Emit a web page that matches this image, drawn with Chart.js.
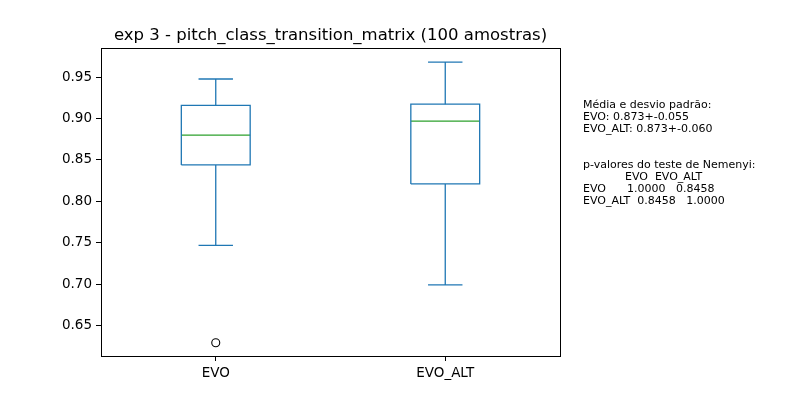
<!DOCTYPE html>
<html>
<head>
<meta charset="utf-8">
<script src="https://cdn.jsdelivr.net/npm/chart.js@4/dist/chart.umd.min.js"></script>
<style>
html,body{margin:0;padding:0;background:#fff;}
#wrap{width:800px;height:400px;}
</style>
</head>
<body>
<div id="wrap"><canvas id="c" width="800" height="400"></canvas></div>
<script>
const categories = ['EVO', 'EVO_ALT'];
const whiskerLow = [0.7469, 0.6992];
const q1 = [0.8440, 0.8211];
const median = [0.8800, 0.8969];
const q3 = [0.9157, 0.9173];
const whiskerHigh = [0.9476, 0.9680];
const outliers = [[0.6295], []];
const yTicks = [0.65, 0.70, 0.75, 0.80, 0.85, 0.90, 0.95];
const titleText = 'exp 3 - pitch_class_transition_matrix (100 amostras)';
const sideText = [
  'Média e desvio padrão:',
  'EVO: 0.873+-0.055',
  'EVO_ALT: 0.873+-0.060',
  '',
  '',
  'p-valores do teste de Nemenyi:',
  '            EVO  EVO_ALT',
  'EVO      1.0000   0.8458',
  'EVO_ALT  0.8458   1.0000'
];

const BLUE = '#1f77b4', GREEN = '#2ca02c';
const boxHalf = 0.15, capHalf = 0.075;
const FONT = '"DejaVu Sans", sans-serif';

function seg(points, color) {
  return { type: 'line', data: points, borderColor: color, borderWidth: 1.3,
    pointRadius: 0, fill: false, tension: 0, showLine: true };
}
const datasets = [];
categories.forEach((c, i) => {
  const x = i + 1;
  datasets.push(seg([{x: x - boxHalf, y: q1[i]}, {x: x - boxHalf, y: q3[i]}, {x: x + boxHalf, y: q3[i]},
    {x: x + boxHalf, y: q1[i]}, {x: x - boxHalf, y: q1[i]}], BLUE));
  datasets.push(seg([{x: x, y: q3[i]}, {x: x, y: whiskerHigh[i]}], BLUE));
  datasets.push(seg([{x: x, y: q1[i]}, {x: x, y: whiskerLow[i]}], BLUE));
  datasets.push(seg([{x: x - capHalf, y: whiskerHigh[i]}, {x: x + capHalf, y: whiskerHigh[i]}], BLUE));
  datasets.push(seg([{x: x - capHalf, y: whiskerLow[i]}, {x: x + capHalf, y: whiskerLow[i]}], BLUE));
  datasets.push(seg([{x: x - boxHalf, y: median[i]}, {x: x + boxHalf, y: median[i]}], GREEN));
  if (outliers[i].length) {
    datasets.push({ type: 'scatter', data: outliers[i].map(v => ({x: x, y: v})),
      pointRadius: 4, pointBorderColor: '#000', pointBackgroundColor: 'rgba(0,0,0,0)',
      pointBorderWidth: 1.1, showLine: false });
  }
});

const textPlugin = {
  id: 'texts',
  afterDraw(chart) {
    const ctx = chart.ctx, a = chart.chartArea;
    ctx.save();
    ctx.strokeStyle = '#000';
    ctx.lineWidth = 1;
    ctx.strokeRect(Math.round(a.left) + 0.5, Math.round(a.top) + 0.5,
      Math.round(a.right - a.left), Math.round(a.bottom - a.top));
    ctx.fillStyle = '#000';
    ctx.font = '16.5px ' + FONT;
    ctx.textAlign = 'center';
    ctx.textBaseline = 'alphabetic';
    ctx.fillText(titleText, (a.left + a.right) / 2, 40);
    ctx.font = '11px ' + FONT;
    ctx.textAlign = 'left';
    sideText.forEach((t, i) => {
      if (t) ctx.fillText(t, 583, 107.5 + 12 * i);
    });
    ctx.restore();
  }
};

new Chart(document.getElementById('c'), {
  type: 'line',
  data: { datasets },
  plugins: [textPlugin],
  options: {
    responsive: false,
    animation: false,
    events: [],
    layout: { padding: { left: 0, top: 48, right: 240, bottom: 0 } },
    plugins: { legend: { display: false }, tooltip: { enabled: false }, title: { display: false } },
    scales: {
      x: {
        type: 'linear', min: 0.5, max: 2.5,
        afterBuildTicks(s) { s.ticks = categories.map((c, i) => ({ value: i + 1 })); },
        afterFit(s) { s.height = 44; },
        ticks: { callback: (v) => categories[Math.round(v) - 1] || '', color: '#000',
          font: { family: FONT, size: 13.5 }, padding: 4, maxRotation: 0, autoSkip: false },
        grid: { drawOnChartArea: false, tickLength: 5, tickColor: '#000', lineWidth: 1 },
        border: { display: true, color: '#000', width: 1 }
      },
      y: {
        type: 'linear', min: 0.6135, max: 0.985,
        afterBuildTicks(s) { s.ticks = yTicks.map(v => ({ value: v })); },
        afterFit(s) { s.width = 101; },
        ticks: { callback: (v) => v.toFixed(2), color: '#000',
          font: { family: FONT, size: 13.5 }, padding: 4 },
        grid: { drawOnChartArea: false, tickLength: 5, tickColor: '#000', lineWidth: 1 },
        border: { display: true, color: '#000', width: 1 }
      }
    }
  }
});
</script>
</body>
</html>
